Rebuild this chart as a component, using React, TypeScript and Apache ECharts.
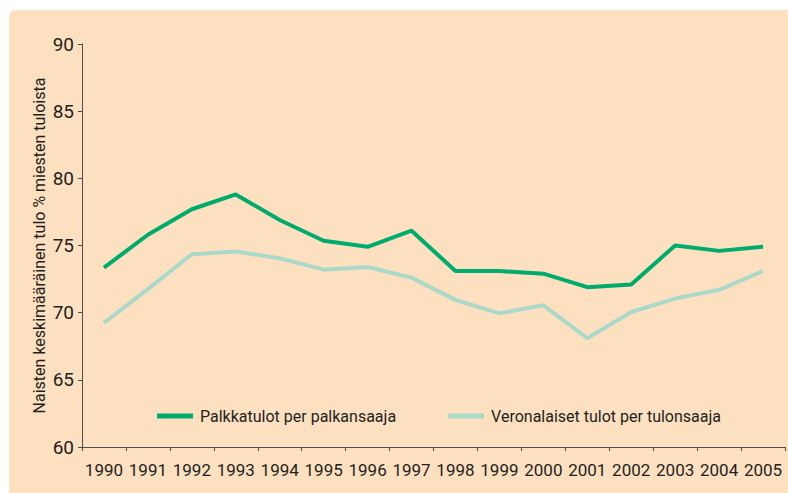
import React, { useEffect, useRef } from "react";
import * as echarts from "echarts";

const years = ["1990","1991","1992","1993","1994","1995","1996","1997","1998","1999","2000","2001","2002","2003","2004","2005"];
const palkkatulot = [73.35, 75.8, 77.7, 78.8, 76.9, 75.35, 74.9, 76.1, 73.1, 73.1, 72.9, 71.9, 72.1, 75.0, 74.6, 74.9];
const veronalaiset = [69.25, 71.75, 74.35, 74.55, 74.05, 73.2, 73.4, 72.6, 70.95, 69.95, 70.55, 68.1, 70.05, 71.05, 71.7, 73.1];
const seriesNames = ["Palkkatulot per palkansaaja", "Veronalaiset tulot per tulonsaaja"];
const yAxisTitle = "Naisten keskimääräinen tulo % miesten tuloista";

const FONT = "Roboto, 'Open Sans', sans-serif";
const TXT = "#231f20";

export default function App() {
  const ref = useRef<HTMLDivElement>(null);
  useEffect(() => {
    if (!ref.current) return;
    const chart = echarts.init(ref.current, null, { renderer: "svg" });
    chart.setOption({
      animation: false,
      backgroundColor: "#ffffff",
      textStyle: { fontFamily: FONT },
      graphic: [
        {
          type: "rect",
          z: -10,
          silent: true,
          shape: { x: 9, y: 10, width: 790, height: 490, r: 6 },
          style: { fill: "#fde0c0" },
        },
      ],
      grid: { left: 82, right: 3, top: 44, bottom: 46, containLabel: false },
      legend: {
        left: 152,
        top: 403,
        itemWidth: 36,
        itemHeight: 5,
        itemGap: 52,
        icon: "rect",
        textStyle: { fontSize: 16, color: TXT, fontFamily: FONT, padding: [0, 0, 0, 2] },
        data: seriesNames,
      },
      xAxis: {
        type: "category",
        data: years,
        boundaryGap: true,
        axisLine: { lineStyle: { color: "#4d4d4d", width: 1 } },
        axisTick: { show: true, length: 4, lineStyle: { color: "#4d4d4d" } },
        axisLabel: { fontSize: 17, color: TXT, margin: 14, interval: 0, fontFamily: FONT },
        splitLine: { show: false },
      },
      yAxis: {
        type: "value",
        min: 60,
        max: 90,
        interval: 5,
        name: yAxisTitle,
        nameLocation: "middle",
        nameGap: 35,
        nameMoveOverlap: false,
        nameRotate: 90,
        nameTextStyle: { fontSize: 16, color: TXT, fontFamily: FONT },
        axisLine: { show: true, lineStyle: { color: "#4d4d4d", width: 1 } },
        axisTick: { show: true, length: 4, lineStyle: { color: "#4d4d4d" } },
        axisLabel: { fontSize: 19, color: TXT, margin: 8, fontFamily: FONT },
        splitLine: { show: false },
      },
      series: [
        {
          name: seriesNames[0],
          type: "line",
          data: palkkatulot,
          symbol: "none",
          lineStyle: { color: "#00ab6e", width: 4 },
          itemStyle: { color: "#00ab6e" },
          z: 3,
        },
        {
          name: seriesNames[1],
          type: "line",
          data: veronalaiset,
          symbol: "none",
          lineStyle: { color: "#abd9c9", width: 4 },
          itemStyle: { color: "#abd9c9" },
          z: 2,
        },
      ],
    });
    return () => chart.dispose();
  }, []);
  return (
    <div
      ref={ref}
      style={{ position: "fixed", left: 0, top: 0, width: 788, height: 493 }}
    />
  );
}
